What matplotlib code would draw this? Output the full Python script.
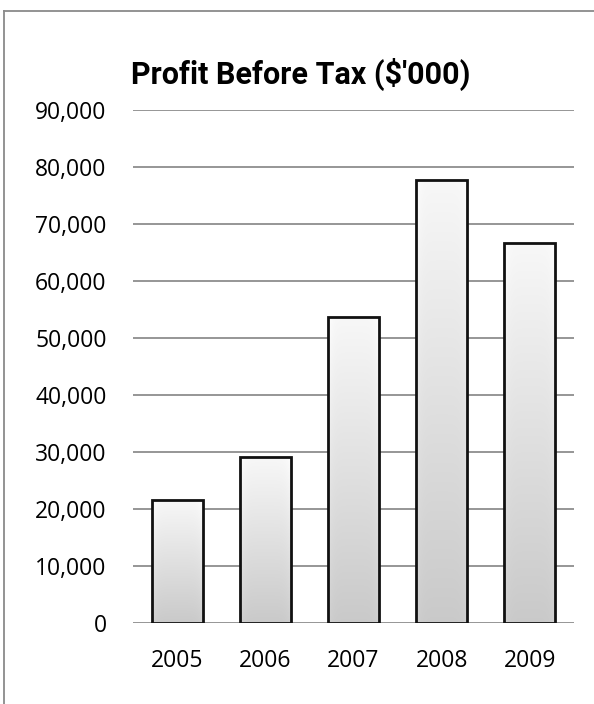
import numpy as np
import matplotlib
matplotlib.use("Agg")
import matplotlib.pyplot as plt
from matplotlib.lines import Line2D

years = ["2005", "2006", "2007", "2008", "2009"]
profit = [21600, 29100, 53700, 77800, 66700]
y_ticks = [0, 10000, 20000, 30000, 40000, 50000, 60000, 70000, 80000, 90000]
y_tick_labels = ["0", "10,000", "20,000", "30,000", "40,000", "50,000",
                 "60,000", "70,000", "80,000", "90,000"]

W, H = 594, 704
fig = plt.figure(figsize=(W / 100, H / 100), dpi=100)
fig.patch.set_facecolor("white")

ax = fig.add_axes([133 / W, 81 / H, 441 / W, 513 / H])

# gridlines
for t in y_ticks:
    ax.axhline(t, color="#8e8e8e", lw=1.3, zorder=1)

x = np.arange(len(years))
bars = ax.bar(x, profit, width=0.58, facecolor="none", edgecolor="#111111",
              linewidth=2.0, zorder=4)

# gradient fill for each bar
ny, nx = 200, 60
vert = np.linspace(0.0, 1.0, ny)[:, None]          # 0 bottom -> 1 top
horiz = np.abs(np.linspace(-1, 1, nx))[None, :]
shade = 0.79 + 0.18 * vert                           # darker toward bottom
shade = shade + 0.03 * (horiz ** 6)                  # slight bevel at sides
shade = np.clip(shade, 0, 1)
rgb = np.dstack([shade, shade, shade])
for b in bars:
    x0, w, h = b.get_x(), b.get_width(), b.get_height()
    im = ax.imshow(rgb, extent=[x0, x0 + w, 0, h], origin="lower",
                   aspect="auto", zorder=3, interpolation="bicubic")
    im.set_clip_path(b)
ax.set_xlim(-0.5, len(years) - 0.5)
ax.set_ylim(0, 90000)

for s in ax.spines.values():
    s.set_visible(False)

ax.set_yticks(y_ticks)
ax.set_yticklabels(y_tick_labels)
ax.set_xticks(x)
ax.set_xticklabels(years)
ax.tick_params(axis="both", length=0, labelsize=16.5, colors="black")
ax.tick_params(axis="y", pad=19)
ax.tick_params(axis="x", pad=19)
for lab in ax.get_xticklabels() + ax.get_yticklabels():
    lab.set_family(["Open Sans", "DejaVu Sans"])

fig.text(301 / W, 1 - 74 / H, "Profit Before Tax ($'000)", ha="center",
         va="center", fontsize=22, fontweight="bold",
         family=["Liberation Sans Narrow", "Roboto", "DejaVu Sans"])

# outer frame lines (top and left)
fig.add_artist(Line2D([4 / W, 1.0], [1 - 11 / H, 1 - 11 / H],
                      color="#8a8a8a", lw=1.3, transform=fig.transFigure))
fig.add_artist(Line2D([4 / W, 4 / W], [0.0, 1 - 11 / H],
                      color="#8a8a8a", lw=1.3, transform=fig.transFigure))

fig.savefig("out.png", dpi=100)
